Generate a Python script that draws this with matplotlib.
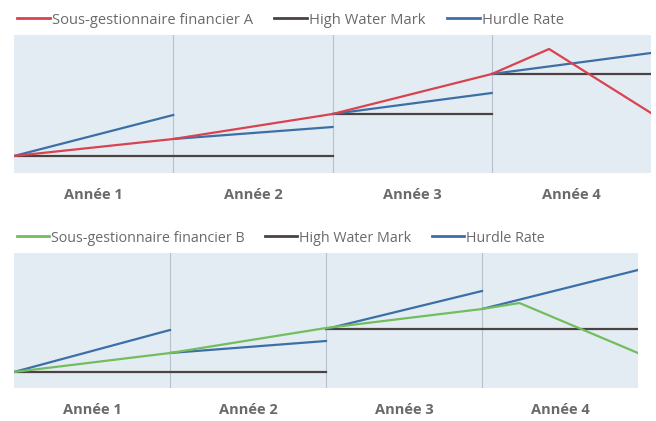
import matplotlib.pyplot as plt
from matplotlib.lines import Line2D

years = ["Année 1", "Année 2", "Année 3", "Année 4"]

# Panel A
a_x = [0, 1, 2, 3, 3.36, 4]
a_val = [17, 34, 59, 99, 124, 60]
a_hwm_from = [0, 2, 3]
a_hwm_to = [2, 3, 4]
a_hwm_level = [17, 59, 99]
a_hurdle_from = [0, 1, 2, 3]
a_hurdle_start = [17, 34, 59, 99]
a_hurdle_end = [58, 46, 80, 120]

# Panel B
b_x = [0, 1, 2, 3, 3.24, 4]
b_val = [16, 35, 60, 79, 85, 35]
b_hwm_from = [0, 2]
b_hwm_to = [2, 4]
b_hwm_level = [16, 59]
b_hurdle_from = [0, 1, 2, 3]
b_hurdle_start = [16, 35, 59, 79]
b_hurdle_end = [58, 47, 97, 118]

RED = "#d8434f"
GREEN = "#72bd5e"
HWM = "#4b4342"
BLUE = "#3c6fa6"
BG = "#e4ecf3"
TXT = "#6a6a6a"

plt.rcParams['font.family'] = ['Open Sans', 'DejaVu Sans']

fig = plt.figure(figsize=(6.56, 4.21), dpi=100)
W, H = 656, 421


def panel(rect, leg_y, fs, xs, vals, col, name, hf, ht, hl, uf, us, ue, ymax):
    l, t, r, b = rect
    ax = fig.add_axes([l / W, 1 - b / H, (r - l) / W, (b - t) / H])
    ax.set_facecolor(BG)
    for s in ax.spines.values():
        s.set_visible(False)
    for d in [1, 2, 3]:
        ax.axvline(d, color="#b9c2cc", lw=0.8, zorder=1)
    for x0, x1, lv in zip(hf, ht, hl):
        ax.plot([x0, x1], [lv, lv], color=HWM, lw=1.6, zorder=2)
    for x0, y0, y1 in zip(uf, us, ue):
        ax.plot([x0, x0 + 1], [y0, y1], color=BLUE, lw=1.6, zorder=3)
    ax.plot(xs, vals, color=col, lw=1.6, zorder=4)
    ax.set_xlim(0, 4)
    ax.set_ylim(0, ymax)
    ax.set_yticks([])
    ax.set_xticks([0.5, 1.5, 2.5, 3.5])
    ax.set_xticklabels(years, fontsize=10.5, fontweight="bold", color=TXT)
    ax.tick_params(axis="x", length=0, pad=11)
    handles = [Line2D([], [], color=col, lw=2.0),
               Line2D([], [], color=HWM, lw=2.0),
               Line2D([], [], color=BLUE, lw=2.0)]
    leg = ax.legend(handles, [name, "High Water Mark", "Hurdle Rate"],
                    loc="center left", bbox_to_anchor=(17 / W, 1 - leg_y / H),
                    bbox_transform=fig.transFigure, ncol=3,
                    frameon=False, fontsize=fs, handlelength=2.25,
                    handletextpad=0.12, columnspacing=1.45, borderaxespad=0,
                    borderpad=0)
    for t_ in leg.get_texts():
        t_.set_color(TXT)
    return ax


panel((14, 35, 651, 173), 20, 10.6, a_x, a_val, RED, "Sous-gestionnaire financier A",
      a_hwm_from, a_hwm_to, a_hwm_level,
      a_hurdle_from, a_hurdle_start, a_hurdle_end, 138)
panel((14, 253, 638, 388), 238, 10.3, b_x, b_val, GREEN, "Sous-gestionnaire financier B",
      b_hwm_from, b_hwm_to, b_hwm_level,
      b_hurdle_from, b_hurdle_start, b_hurdle_end, 135)

fig.savefig("out.png", dpi=100)
